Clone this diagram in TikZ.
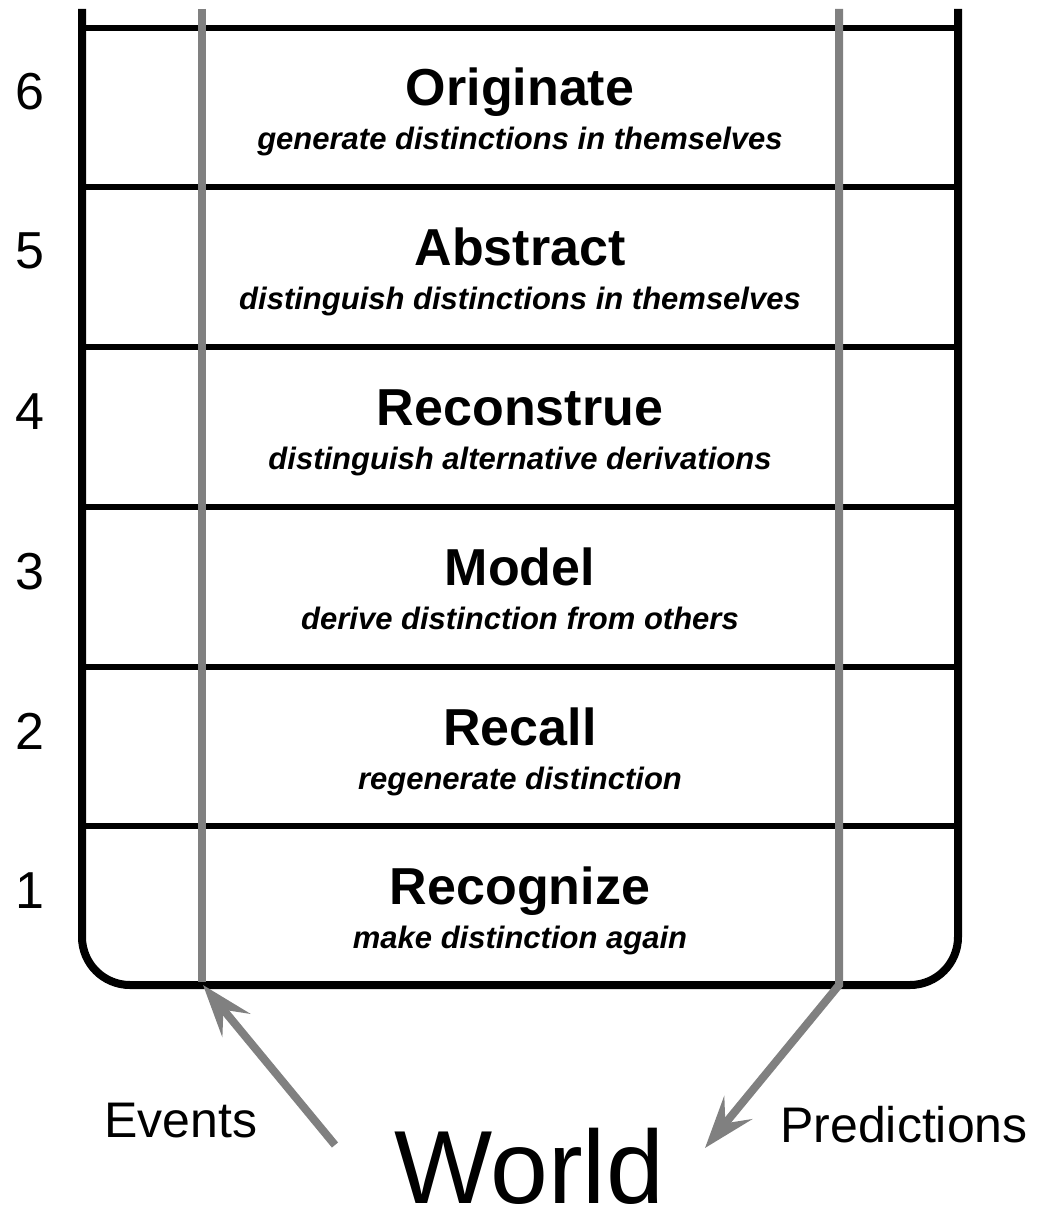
\documentclass[tikz,border=0pt]{standalone}
\usepackage{fontspec}
\setmainfont{Liberation Sans}
\usetikzlibrary{arrows.meta}
\definecolor{flowgray}{RGB}{128,128,128}
\begin{document}
\begin{tikzpicture}[x=0.5pt,y=-0.5pt,
  wall/.style={line width=4pt, line cap=butt, rounded corners=24pt},
  rowline/.style={line width=2.8pt},
  flow/.style={draw=flowgray, line width=4pt},
  flowarrow/.style={flow, -{Stealth[length=26pt,width=18pt,inset=10pt]}},
  lvltitle/.style={anchor=base, font=\fontsize{26}{30}\selectfont\bfseries, inner sep=0pt},
  lvlsub/.style={anchor=base, font=\fontsize{15.5}{18}\selectfont\bfseries\itshape, inner sep=0pt},
  lvlnum/.style={anchor=base, font=\fontsize{26}{30}\selectfont, inner sep=0pt},
  sidetext/.style={anchor=base, font=\fontsize{25}{30}\selectfont, inner sep=0pt},
  worldtext/.style={anchor=base, font=\fontsize{52}{60}\selectfont, inner sep=0pt}
]
\useasboundingbox (0,0) rectangle (1042,1209);
% level rows
\foreach \k/\y/\t/\s in {
  6/28/Originate/generate distinctions in themselves,
  5/187/Abstract/distinguish distinctions in themselves,
  4/347/Reconstrue/distinguish alternative derivations,
  3/507/Model/derive distinction from others,
  2/667/Recall/regenerate distinction,
  1/826/Recognize/make distinction again}{
  \draw[rowline] (82,\y) -- (958,\y);
  \node[lvltitle] (t\k) at (520,{\y+78}) {\t};
  \node[lvlsub] (s\k) at (520,{\y+122}) {\s};
  \node[lvlnum] (n\k) at (30,{\y+82}) {\k};
}
% container
\draw[wall] (82,9) -- (82,985) -- (958,985) -- (958,9);
% flows
\coordinate (evtop) at (202,9);
\coordinate (evbot) at (202,982);
\coordinate (evtail) at (335,1145);
\coordinate (evtip) at (203,985);
\coordinate (prtop) at (839,9);
\coordinate (prbend) at (839,985);
\coordinate (prtip) at (705,1148);
\draw[flow] (evtop) -- (evbot);
\draw[flowarrow] (evtail) -- (evtip);
\draw[flowarrow] (prtop) -- (prbend) -- (prtip);
% labels
\node[worldtext] (world) at (529,1203) {World};
\node[sidetext] (events) at (181,1137) {Events};
\node[sidetext] (predictions) at (904,1142) {Predictions};
\end{tikzpicture}
\end{document}
